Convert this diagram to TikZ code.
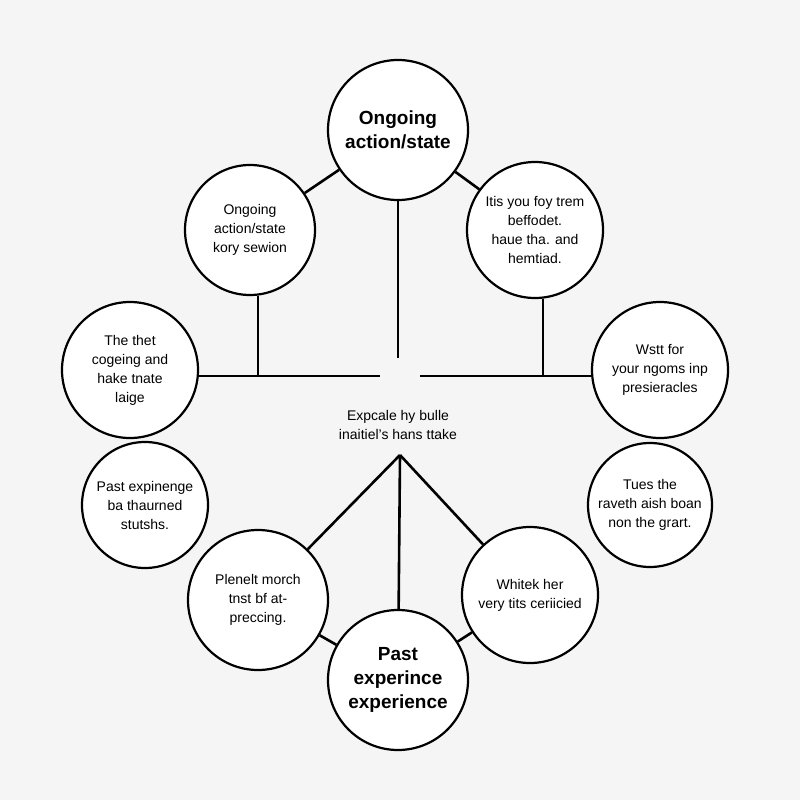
\documentclass[tikz,border=0pt]{standalone}
\usepackage{fontspec}
\setmainfont{Liberation Sans}
\begin{document}
\begin{tikzpicture}[x=1pt,y=-1pt,
  c/.style={circle,draw=black,line width=2.2pt,fill=white,align=center,inner sep=0pt},
  t/.style={font=\fontsize{14}{19}\selectfont},
  b/.style={font=\fontsize{19}{24}\selectfont\bfseries},
  l/.style={line width=2.6pt}]
\fill[white!96!black] (0,0) rectangle (800,800);
\useasboundingbox (0,0) rectangle (800,800);
% connectors (behind circles)
\coordinate (hl) at (197,376);
\coordinate (hm1) at (380,376);
\coordinate (hm2) at (420,376);
\coordinate (hr) at (592,376);
\coordinate (vt) at (398,358);
\coordinate (ctr) at (400,455);
\coordinate (jl) at (258,376);
\coordinate (jr) at (543,376);
\draw[l] (hl) -- (hm1);
\draw[l] (hm2) -- (hr);
\node[c,minimum size=140pt,b] (top) at (398,130) {Ongoing\\action/state};
\node[c,minimum size=130pt,t] (tl) at (250,230) {Ongoing\\action/state\\kory sewion};
\node[c,minimum size=136pt,t] (tr) at (535,230) {Itis you foy trem\\beffodet.\\haue tha. and\\hemtiad.};
\node[c,minimum size=136pt,t] (l) at (130,370) {The thet\\cogeing and\\hake tnate\\laige};
\node[c,minimum size=136pt,t] (r) at (660,370) {Wstt for\\your ngoms inp\\presieracles};
\node[c,minimum size=126pt,t] (ll) at (145,505) {Past expinenge\\ba thaurned\\stutshs.};
\node[c,minimum size=124pt,t] (rl) at (650,505) {Tues the\\raveth aish boan\\non the grart.};
\node[c,minimum size=140pt,t] (bl) at (258,600) {Plenelt morch\\tnst bf at-\\preccing.};
\node[c,minimum size=136pt,t] (br) at (530,595) {Whitek her\\very tits ceriicied};
\node[c,minimum size=140pt,b] (bot) at (398,680) {Past\\experince\\experience};
\node[t,align=center] (mid) at (398,425) {Expcale hy bulle\\inaitiel's hans ttake};
\draw[l] (top) -- (vt);
\draw[l] (tl.south) ++(8,0) -- (jl);
\draw[l] (tr.south) ++(8,0) -- (jr);
\draw[l] (top) -- (tl);
\draw[l] (top) -- (tr);
\draw[l] (ctr) -- (bot);
\draw[l] (ctr) -- (bl);
\draw[l] (ctr) -- (br);
\draw[l] (bot) -- (bl);
\draw[l] (bot) -- (br);
\end{tikzpicture}
\end{document}
